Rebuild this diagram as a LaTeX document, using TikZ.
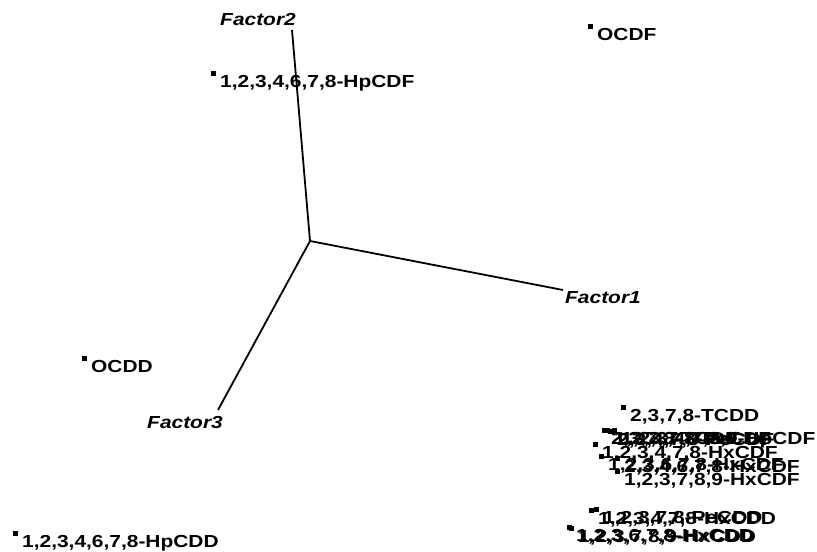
\documentclass[tikz,border=0pt]{standalone}
\usepackage{fontspec}
\setmainfont{Liberation Sans}[FakeStretch=1.2]
\usetikzlibrary{calc}
\tikzset{
  sqpt/.style={fill, rectangle, minimum size=5bp, inner sep=0pt},
  cmp/.style={font=\fontsize{17.5}{20}\selectfont\bfseries, anchor=base west, inner sep=0pt},
  axlbl/.style={font=\fontsize{17.5}{20}\selectfont\bfseries\itshape, inner sep=0pt},
  axis/.style={line width=1.8bp}
}
\begin{document}
\begin{tikzpicture}[x=1bp, y=-1bp]
  \useasboundingbox (0,0) rectangle (817,552);
  % axes
  \coordinate (o) at (310,241);
  \coordinate (f1) at (563,290);
  \coordinate (f2) at (292,30);
  \coordinate (f3) at (218,410);
  \draw[axis] (o) -- (f1);
  \draw[axis] (o) -- (f2);
  \draw[axis] (o) -- (f3);
  \node[axlbl, anchor=base west] (f1-l) at ($(f1)+(2,14)$) {Factor1};
  \node[axlbl, anchor=base east] (f2-l) at ($(f2)+(4,-4)$) {Factor2};
  \node[axlbl, anchor=base east] (f3-l) at ($(f3)+(5,18)$) {Factor3};
  % loadings
  \foreach \n/\x/\y/\t in {
      ocdf/590/27/OCDF,
      hpcdf/213/74/{1,2,3,4,6,7,8-HpCDF},
      ocdd/84/358/OCDD,
      hpcdd/15/533/{1,2,3,4,6,7,8-HpCDD},
      tcdd/623/407/{2,3,7,8-TCDD},
      tcdf/604/430/{2,3,7,8-TCDF},
      pecdfa/607/430/{1,2,3,7,8-PeCDF},
      pecdfb/610/431/{2,3,4,7,8-PeCDF},
      hpcdfb/614/430/{1,2,3,4,7,8,9-HpCDF},
      hxcdfa/595/444/{1,2,3,4,7,8-HxCDF},
      hxcdfb/601/456/{1,2,3,6,7,8-HxCDF},
      hxcdfc/617/458/{2,3,4,6,7,8-HxCDF},
      hxcdfd/617/471/{1,2,3,7,8,9-HxCDF},
      hxcdda/591/510/{1,2,3,4,7,8-HxCDD},
      pecdd/596/509/{1,2,3,7,8-PeCDD},
      hxcddb/569/527/{1,2,3,6,7,8-HxCDD},
      hxcddc/571/528/{1,2,3,7,8,9-HxCDD}} {
    \node[sqpt] (\n) at (\x,\y) {};
    \node[cmp] (\n-l) at ($(\n)+(7,14)$) {\t};
  }
\end{tikzpicture}
\end{document}
